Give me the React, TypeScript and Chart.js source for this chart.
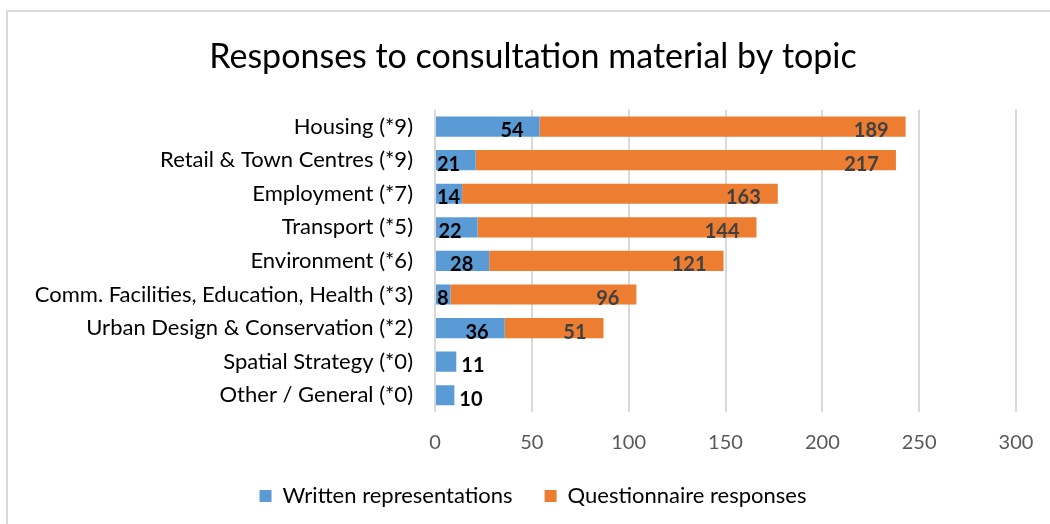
import React, { useEffect, useRef } from "react";
import { Chart, registerables } from "chart.js";

Chart.register(...registerables);

const categories = [
  "Housing (*9)",
  "Retail & Town Centres (*9)",
  "Employment (*7)",
  "Transport (*5)",
  "Environment (*6)",
  "Comm. Facilities, Education, Health (*3)",
  "Urban Design & Conservation (*2)",
  "Spatial Strategy (*0)",
  "Other / General (*0)",
];
const written = [54, 21, 14, 22, 28, 8, 36, 11, 10];
const questionnaire = [189, 217, 163, 144, 121, 96, 51, 0, 0];
const xTicks = [0, 50, 100, 150, 200, 250, 300];

const FONT = "Lato";

const labelPlugin = {
  id: "barLabels",
  afterDatasetsDraw(chart: any) {
    const ctx = chart.ctx;
    ctx.save();
    ctx.font = `bold 20px ${FONT}`;
    ctx.textBaseline = "middle";
    chart.data.datasets.forEach((ds: any, di: number) => {
      const meta = chart.getDatasetMeta(di);
      meta.data.forEach((bar: any, j: number) => {
        const v = ds.data[j];
        if (!v) return;
        const p = bar.getProps(["x", "y", "base"], true);
        const txt = String(v);
        const w = ctx.measureText(txt).width;
        const y = p.y + 4;
        ctx.fillStyle = di === 0 ? "#000000" : "#404040";
        if (di === 0 && !questionnaire[j]) {
          ctx.textAlign = "left";
          ctx.fillText(txt, p.x + 5, y);
          return;
        }
        let xr = p.x - (di === 0 ? 16 : 17);
        if (xr - w < p.base + 1) xr = p.base + 1 + w;
        ctx.textAlign = "right";
        ctx.fillText(txt, xr, y);
      });
    });
    ctx.restore();
  },
};

export default function App() {
  const ref = useRef<HTMLCanvasElement>(null);
  useEffect(() => {
    if (!ref.current) return;
    const chart = new Chart(ref.current, {
      type: "bar",
      data: {
        labels: categories,
        datasets: [
          {
            label: "Written representations",
            data: written,
            backgroundColor: "#5B9BD5",
            barPercentage: 0.6,
            categoryPercentage: 1,
          },
          {
            label: "Questionnaire responses",
            data: questionnaire,
            backgroundColor: "#ED7D31",
            barPercentage: 0.6,
            categoryPercentage: 1,
          },
        ],
      },
      options: {
        indexAxis: "y",
        animation: false,
        responsive: false,
        maintainAspectRatio: false,
        layout: { padding: { left: 16, right: 0, top: 0, bottom: 7 } },
        scales: {
          x: {
            stacked: true,
            min: 0,
            max: 300,
            afterBuildTicks: (s: any) => {
              s.ticks = xTicks.map((v) => ({ value: v }));
            },
            afterFit: (s: any) => {
              s.height = 41;
            },
            grid: {
              color: "#d9d9d9",
              lineWidth: 2,
              drawTicks: true,
              tickLength: 17,
              tickColor: "rgba(0,0,0,0)",
            },
            border: { display: false },
            ticks: {
              padding: 4,
              color: "#595959",
              font: { family: FONT, size: 20, lineHeight: 1 },
            },
          },
          y: {
            stacked: true,
            afterFit: (s: any) => {
              s.width = 419;
            },
            grid: { display: false, drawTicks: false },
            border: { display: false },
            ticks: {
              padding: 22,
              color: "#000000",
              font: { family: FONT, size: 22 },
              autoSkip: false,
            },
          },
          yRight: {
            type: "category",
            position: "right",
            grid: { display: false, drawTicks: false },
            border: { display: false },
            ticks: { display: false },
            afterFit: (s: any) => {
              s.width = 34;
            },
          },
        },
        plugins: {
          title: {
            display: true,
            text: "Responses to consultation material by topic",
            color: "#000000",
            font: { family: FONT, size: 34, weight: "normal" },
            padding: { top: 37, bottom: 32 },
          },
          legend: {
            position: "bottom",
            labels: {
              boxWidth: 12,
              boxHeight: 12,
              padding: 32,
              color: "#000000",
              font: { family: FONT, size: 22 },
            },
          },
          tooltip: { enabled: false },
        },
      },
      plugins: [labelPlugin],
    });
    return () => chart.destroy();
  }, []);
  return (
    <div style={{ position: "absolute", left: 0, top: 0, width: 1050, height: 524, background: "#fff", overflow: "hidden" }}>
      <div
        style={{
          position: "absolute",
          left: 6,
          top: 10,
          width: 1100,
          height: 600,
          borderLeft: "2px solid #d9d9d9",
          borderTop: "2px solid #d9d9d9",
        }}
      />
      <canvas ref={ref} width={1050} height={524} style={{ position: "absolute", left: 0, top: 0 }} />
    </div>
  );
}
